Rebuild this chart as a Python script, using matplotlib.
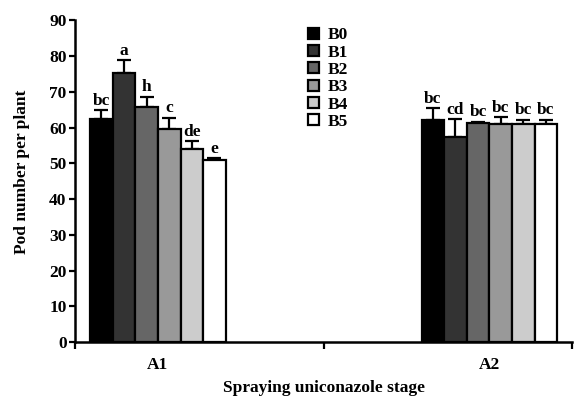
import numpy as np
import matplotlib
matplotlib.use("Agg")
from matplotlib import pyplot as plt

# data
stages = ["A1", "A2"]
treatments = ["B0", "B1", "B2", "B3", "B4", "B5"]
a1_means = [62.3, 75.3, 65.6, 59.5, 53.9, 50.9]
a1_err = [2.5, 3.5, 3.0, 3.2, 2.3, 0.5]
a1_letters = ["bc", "a", "h", "c", "de", "e"]
a2_means = [62.2, 57.4, 61.3, 61.1, 61.0, 61.0]
a2_err = [3.2, 4.9, 0.3, 1.7, 1.2, 1.2]
a2_letters = ["bc", "cd", "bc", "bc", "bc", "bc"]

colors = ["#000000", "#333333", "#666666", "#999999", "#cccccc", "#ffffff"]

plt.rcParams["font.family"] = ["Liberation Serif", "DejaVu Serif"]
plt.rcParams["font.weight"] = "bold"
fs = 12.5

fig = plt.figure(figsize=(5.81, 3.96), dpi=100)
ax = fig.add_axes([0.129, 0.136, 0.856, 0.813])

group_starts = [0.67, 15.33]
groups = [(a1_means, a1_err, a1_letters), (a2_means, a2_err, a2_letters)]

for g, (means, errs, letters) in enumerate(groups):
    x = group_starts[g] + 0.5 + np.arange(len(treatments))
    for i in range(len(treatments)):
        ax.bar(x[i], means[i], width=1.0, color=colors[i], edgecolor="black",
               linewidth=1.6, label=treatments[i] if g == 0 else None, zorder=2)
        ax.errorbar(x[i], means[i], yerr=[[0], [errs[i]]], fmt="none",
                    ecolor="black", elinewidth=1.6, capsize=5, capthick=1.6, zorder=1)
        ax.text(x[i], means[i] + errs[i] + 0.4, letters[i], ha="center",
                va="bottom", fontsize=fs, fontweight="bold")

ax.set_xlim(0, 22)
ax.set_ylim(0, 90)
ax.set_yticks(np.arange(0, 91, 10))
ax.set_xticks([0, 11, 22])
ax.set_xticklabels([])
ax.set_xticks([group_starts[0] + 3, group_starts[1] + 3], minor=True)
ax.set_xticklabels(stages, minor=True)
ax.tick_params(axis="x", which="minor", length=0, pad=11, labelsize=fs)
ax.tick_params(axis="x", which="major", length=5, width=1.6, direction="out")
ax.tick_params(axis="y", length=4, width=1.6, labelsize=fs, pad=2)

for side in ["top", "right"]:
    ax.spines[side].set_visible(False)
for side in ["left", "bottom"]:
    ax.spines[side].set_linewidth(1.8)

ax.set_ylabel("Pod number per plant", fontsize=fs, fontweight="bold")
ax.yaxis.set_label_coords(-0.09, 0.53)
ax.set_xlabel("Spraying uniconazole stage", fontsize=fs, fontweight="bold", labelpad=5)

leg = ax.legend(loc="upper left", bbox_to_anchor=(0.455, 1.0), frameon=False,
                fontsize=fs, handlelength=0.6, handleheight=0.6,
                handletextpad=0.5, labelspacing=0.08, borderaxespad=0.0)

fig.savefig("out.png", dpi=100)
